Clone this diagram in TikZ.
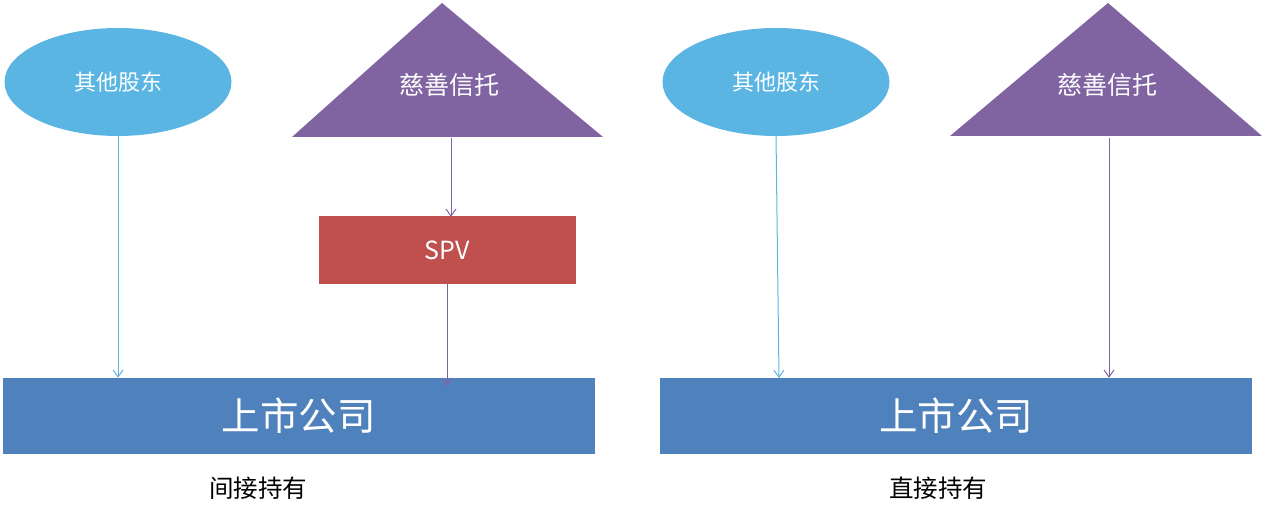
\documentclass[tikz,border=0pt]{standalone}
\usepackage{fontspec}
\setmainfont{Noto Sans CJK SC}
\usetikzlibrary{shapes.geometric,arrows.meta}
\definecolor{skyb}{HTML}{5AB5E3}
\definecolor{purp}{HTML}{8064A2}
\definecolor{redd}{HTML}{C0504D}
\definecolor{blu}{HTML}{4F81BD}
\tikzset{
  ellbox/.style={ellipse, fill=skyb, draw=none, minimum width=227pt, minimum height=108pt, inner sep=0pt, text=white, font=\fontsize{22}{26}\selectfont},
  tritext/.style={text=white, font=\fontsize{25}{29}\selectfont, inner sep=0pt},
  spvbox/.style={rectangle, fill=redd, draw=none, minimum width=257pt, minimum height=68pt, inner sep=0pt, text=white, font=\fontsize{25}{29}\selectfont},
  cobox/.style={rectangle, fill=blu, draw=none, minimum width=592pt, minimum height=76pt, inner sep=0pt, text=white, font=\fontsize{38.5}{42}\selectfont},
  caption/.style={text=black, font=\fontsize{24.5}{28}\selectfont, inner sep=0pt},
  barrow/.style={draw=skyb, line width=1pt, -{Straight Barb[length=7pt,width=10pt]}},
  parrow/.style={draw=purp, line width=1pt, -{Straight Barb[length=7pt,width=10pt]}},
}
\begin{document}
\begin{tikzpicture}[x=1pt,y=-1pt]
\useasboundingbox (0,0) rectangle (1268,510);
% left half
\node[ellbox] (e1) at (118,82) {其他股东};
\fill[purp] (292,137) -- (442,3) -- (603,137) -- cycle;
\node[tritext] (t1) at (449,85) {慈善信托};
\coordinate (t1b) at (451,138);
\node[spvbox] (spv) at (447.5,250) {SPV};
\node[cobox] (c1) at (298.5,416) {上市公司};
\coordinate (spvend) at (447,386);
\node[caption] (l1) at (258,488) {间接持有};
\draw[barrow] ([yshift=2pt]e1.south) -- (e1.south |- c1.north);
\draw[parrow] (t1b) -- ([yshift=-1pt]t1b |- spv.north);
\draw[parrow] (spv.south -| spvend) -- (spvend);
% right half
\node[ellbox] (e2) at (776,82) {其他股东};
\fill[purp] (950,136) -- (1108,3) -- (1262,136) -- cycle;
\node[tritext] (t2) at (1107,85) {慈善信托};
\coordinate (t2b) at (1109,138);
\node[cobox] (c2) at (956,416) {上市公司};
\coordinate (e2end) at (779,378);
\node[caption] (l2) at (938,488) {直接持有};
\draw[barrow] ([yshift=2pt]e2.south) -- (e2end);
\draw[parrow] (t2b) -- (t2b |- c2.north);
\end{tikzpicture}
\end{document}
